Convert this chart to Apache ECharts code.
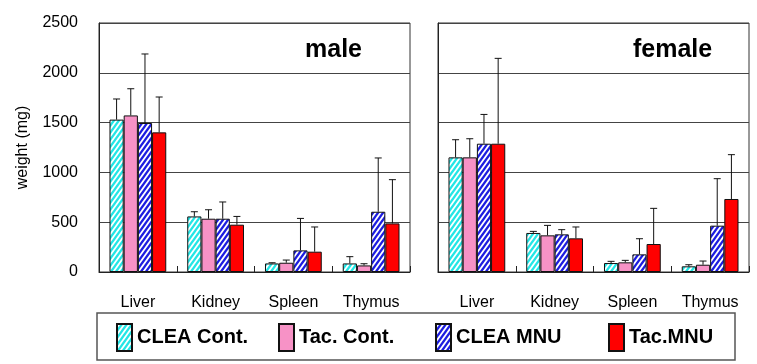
<!DOCTYPE html>
<html>
<head>
<meta charset="utf-8">
<script src="https://cdn.jsdelivr.net/npm/echarts@6/dist/echarts.min.js"></script>
<style>html,body{margin:0;padding:0;background:#fff}#c{width:757px;height:364px}</style>
</head>
<body>
<div id="c"></div>
<script>
var categories = ['Liver', 'Kidney', 'Spleen', 'Thymus'];
var seriesNames = ['CLEA Cont.', 'Tac. Cont.', 'CLEA MNU', 'Tac.MNU'];
var panelTitles = ['male', 'female'];
var yTicks = [0, 500, 1000, 1500, 2000, 2500];

// male means / SD (mg)
var maleCleaCont = [1530, 558, 86, 86];
var maleCleaContSD = [207, 47, 7, 68];
var maleTacCont = [1572, 535, 93, 66];
var maleTacContSD = [268, 90, 27, 17];
var maleCleaMnu = [1496, 535, 217, 605];
var maleCleaMnuSD = [693, 168, 321, 540];
var maleTacMnu = [1402, 475, 204, 488];
var maleTacMnuSD = [355, 83, 248, 439];

// female means / SD (mg)
var femaleCleaCont = [1151, 392, 90, 57];
var femaleCleaContSD = [177, 16, 17, 16];
var femaleTacCont = [1151, 368, 97, 73];
var femaleTacContSD = [187, 100, 20, 37];
var femaleCleaMnu = [1288, 378, 177, 465];
var femaleCleaMnuSD = [294, 47, 157, 472];
var femaleTacMnu = [1288, 338, 281, 733];
var femaleTacMnuSD = [857, 114, 358, 445];

function stripe(color) {
  var w = 5, h = 7;
  var cv = document.createElement('canvas');
  cv.width = w; cv.height = h;
  var ctx = cv.getContext('2d');
  ctx.fillStyle = '#fff';
  ctx.fillRect(0, 0, w, h);
  ctx.strokeStyle = color;
  ctx.lineWidth = 2.2;
  for (var k = -1; k <= 1; k++) {
    ctx.beginPath();
    ctx.moveTo(k * w - w, 2 * h);
    ctx.lineTo(k * w + 2 * w, -h);
    ctx.stroke();
  }
  return { image: cv, repeat: 'repeat' };
}

var fills = [stripe('#22e6e6'), '#f792c6', stripe('#1c1ce0'), '#ff0000'];
var panels = [
  { means: [maleCleaCont, maleTacCont, maleCleaMnu, maleTacMnu], sds: [maleCleaContSD, maleTacContSD, maleCleaMnuSD, maleTacMnuSD] },
  { means: [femaleCleaCont, femaleTacCont, femaleCleaMnu, femaleTacMnu], sds: [femaleCleaContSD, femaleTacContSD, femaleCleaMnuSD, femaleTacMnuSD] }
];

var FONT = 'Arial, "Liberation Sans", Helvetica, sans-serif';
var GAP = 0.27;

var grids = [
  { left: 99, right: 347, top: 23, bottom: 92, show: true, borderColor: '#333', borderWidth: 1 },
  { left: 438, right: 8, top: 23, bottom: 92, show: true, borderColor: '#333', borderWidth: 1 }
];
var xAxes = [], yAxes = [], series = [];
for (var p = 0; p < 2; p++) {
  xAxes.push({
    type: 'category', gridIndex: p, data: categories,
    axisLine: { lineStyle: { color: '#222', width: 1 } },
    axisTick: { show: true, inside: true, length: 6, lineStyle: { color: '#222' } },
    axisLabel: { color: '#000', fontSize: 16, fontFamily: FONT, margin: 23 }
  });
  yAxes.push({
    type: 'value', gridIndex: p, min: yTicks[0], max: yTicks[yTicks.length - 1], interval: 500,
    name: p === 0 ? 'weight (mg)' : '',
    nameLocation: 'middle', nameGap: 68,
    nameTextStyle: { color: '#000', fontSize: 16, fontFamily: FONT },
    axisLine: { show: true, lineStyle: { color: '#222' } },
    axisTick: { show: false },
    splitLine: { lineStyle: { color: '#444', width: 1.2 } },
    axisLabel: { show: p === 0, color: '#000', fontSize: 16, fontFamily: FONT, margin: 21,
      formatter: function (v) { return String(v); } }
  });
  for (var s = 0; s < 4; s++) {
    series.push({
      name: seriesNames[s], type: 'bar', xAxisIndex: p, yAxisIndex: p,
      data: panels[p].means[s], barGap: 0, barCategoryGap: (GAP * 100) + '%',
      itemStyle: { color: fills[s], borderColor: '#111', borderWidth: 1 },
      emphasis: { disabled: true }, animation: false
    });
  }
  var errData = [];
  for (var s2 = 0; s2 < 4; s2++) {
    for (var c = 0; c < categories.length; c++) {
      errData.push([c, panels[p].means[s2][c], panels[p].means[s2][c] + panels[p].sds[s2][c], s2]);
    }
  }
  series.push({
    type: 'custom', xAxisIndex: p, yAxisIndex: p, z: 10, animation: false, silent: true,
    data: errData,
    renderItem: function (params, api) {
      var c = api.value(0), m = api.value(1), t = api.value(2), k = api.value(3);
      var band = api.size([1, 0])[0];
      var bw = band * (1 - GAP) / 4;
      var base = api.coord([c, m]);
      var top = api.coord([c, t]);
      var x = base[0] + (-2 + k + 0.5) * bw;
      var style = { stroke: '#111', lineWidth: 1 };
      return {
        type: 'group',
        children: [
          { type: 'line', shape: { x1: x, y1: base[1], x2: x, y2: top[1] }, style: style },
          { type: 'line', shape: { x1: x - 3.5, y1: top[1], x2: x + 3.5, y2: top[1] }, style: style }
        ]
      };
    }
  });
}

var legendLefts = [116, 278, 435, 608];
var legends = seriesNames.map(function (n, i) {
  return {
    data: [n], left: legendLefts[i], top: 323, orient: 'horizontal', padding: 0,
    icon: 'rect', itemWidth: 15, itemHeight: 27, itemGap: 5,
    selectedMode: false,
    textStyle: { color: '#000', fontSize: 20, fontWeight: 'bold', fontFamily: FONT }
  };
});

var chart = echarts.init(document.getElementById('c'), null, { renderer: 'canvas' });
chart.setOption({
  animation: false,
  grid: grids,
  xAxis: xAxes,
  yAxis: yAxes,
  series: series,
  legend: legends,
  graphic: [
    { type: 'rect', shape: { x: 97, y: 313, width: 638, height: 47 }, style: { fill: 'none', stroke: '#555', lineWidth: 1.5 }, z: -1 },
    { type: 'text', left: 305, top: 38, style: { text: panelTitles[0], font: 'bold 25px ' + FONT, fill: '#000' } },
    { type: 'text', left: 633, top: 38, style: { text: panelTitles[1], font: 'bold 25px ' + FONT, fill: '#000' } }
  ]
});
</script>
</body>
</html>
